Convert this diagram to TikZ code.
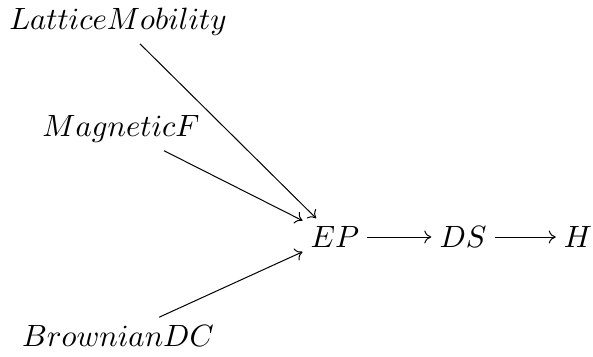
\documentclass[tikz,border=0pt]{standalone}
\usepackage{graphicx}
\usetikzlibrary{arrows.meta}
\newcommand{\mylbltext}[1]{\scalebox{3.08}{$#1$}}
\begin{document}
\begin{tikzpicture}[x=1pt,y=-1pt,
  lbl/.style={inner sep=8pt},
  conn/.style={line width=1pt, -{To[length=7pt,width=13pt]}}]
\useasboundingbox (0,0) rectangle (593,356);
\node[lbl] (LM) at (118,22) {\mylbltext{LatticeMobility}};
\node[lbl] (MF) at (121,129) {\mylbltext{MagneticF}};
\node[lbl] (BD) at (118,336) {\mylbltext{BrownianDC}};
\node[lbl] (EP) at (335,237) {\mylbltext{EP}};
\node[lbl] (DS) at (463,237) {\mylbltext{DS}};
\node[lbl] (H) at (578,237) {\mylbltext{H}};
\draw[conn] (LM) -- (EP);
\draw[conn] (MF) -- (EP);
\draw[conn] (BD) -- (EP);
\draw[conn] (EP) -- (DS);
\draw[conn] (DS) -- (H);
\end{tikzpicture}
\end{document}
